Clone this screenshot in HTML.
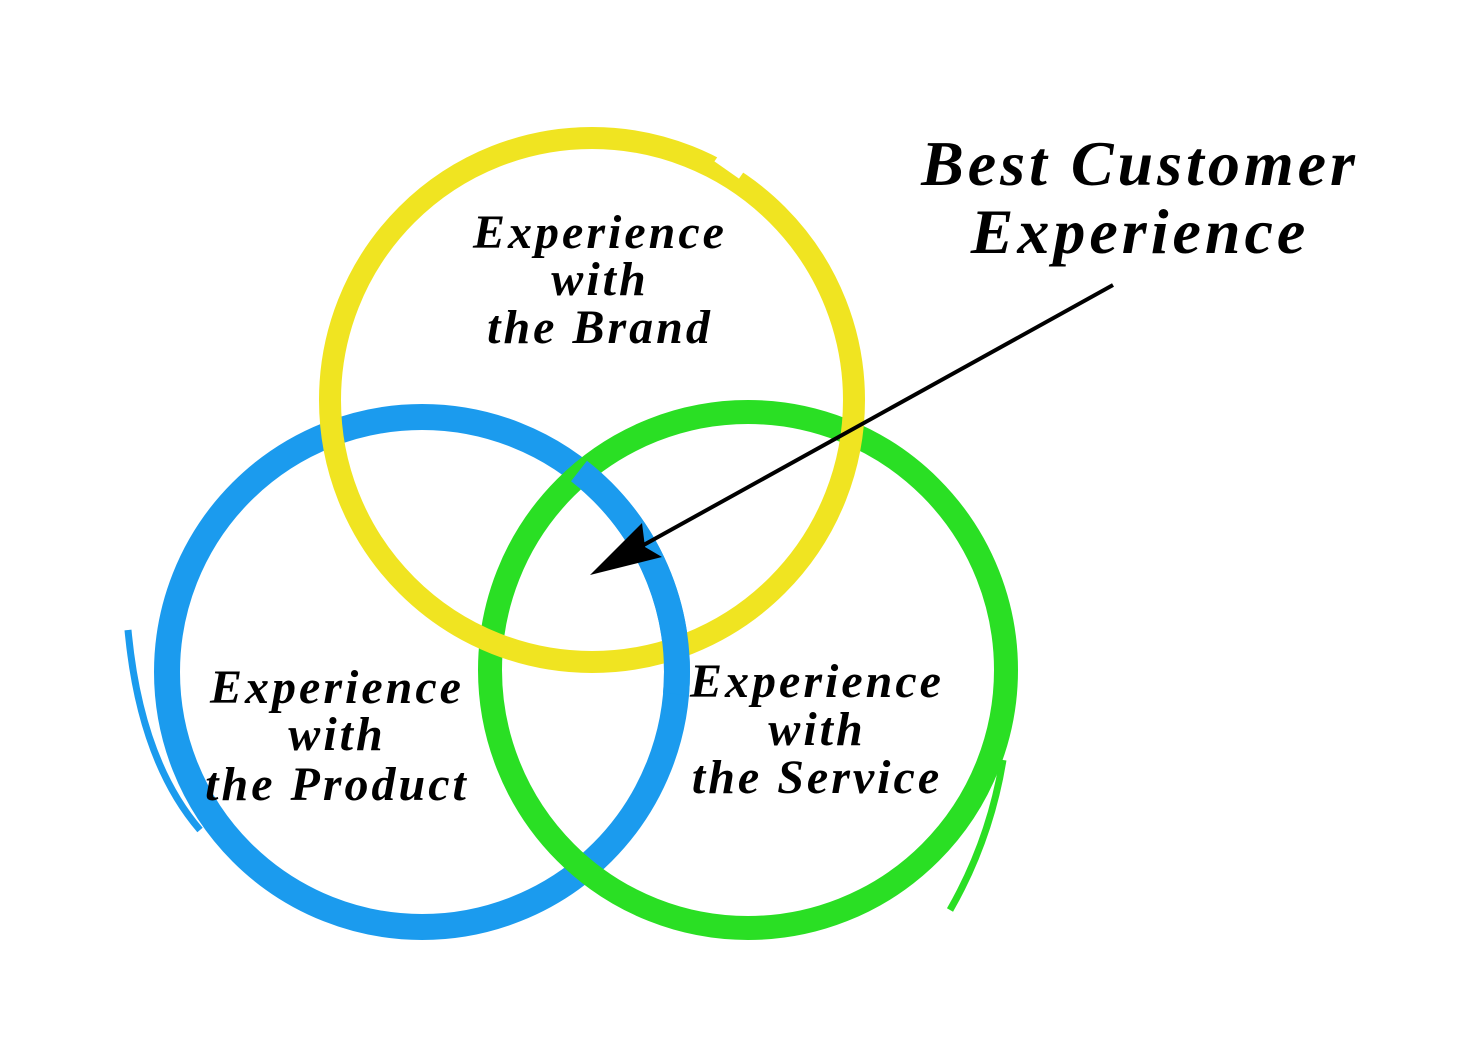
<!DOCTYPE html>
<html><head><style>
html,body{margin:0;padding:0;background:#fff}
svg{display:block}
text{font-family:"Liberation Serif",serif;font-style:italic;fill:#000}
</style></head><body>
<svg width="1466" height="1047" viewBox="0 0 1466 1047" xmlns="http://www.w3.org/2000/svg">
<rect width="1466" height="1047" fill="#fff"/>
<!-- blue -->
<circle cx="422" cy="672" r="255" fill="none" stroke="#1b9bee" stroke-width="26"/>
<path d="M128 630 Q140 760 200 830" fill="none" stroke="#1b9bee" stroke-width="7"/>
<!-- green -->
<circle cx="748" cy="670" r="258" fill="none" stroke="#2adf24" stroke-width="24"/>
<path d="M1003 760 Q990 840 950 910" fill="none" stroke="#2adf24" stroke-width="7"/>
<!-- yellow -->
<circle cx="592" cy="400" r="262" fill="none" stroke="#f0e421" stroke-width="22"/>
<rect x="718" y="150" width="30" height="22" fill="#fff" transform="rotate(35 733 161)"/>
<!-- blue overlay segment -->
<path d="M 579 471 A255 255 0 0 1 676 694" fill="none" stroke="#1b9bee" stroke-width="26"/>
<!-- arrow -->
<line x1="1113" y1="285" x2="640" y2="547" stroke="#000" stroke-width="4"/>
<polygon points="590,575 642,523 645,547 662,557" fill="#000"/>
<g font-size="48" text-anchor="middle" letter-spacing="3" font-weight="bold">
<text x="600" y="248">Experience</text>
<text x="600" y="295">with</text>
<text x="600" y="343">the Brand</text>
<text x="337" y="703">Experience</text>
<text x="337" y="750">with</text>
<text x="337" y="800">the Product</text>
<text x="817" y="697">Experience</text>
<text x="817" y="745">with</text>
<text x="817" y="793">the Service</text>
</g>
<g font-size="64" text-anchor="middle" font-weight="bold" letter-spacing="4">
<text x="1140" y="185">Best Customer</text>
<text x="1140" y="253">Experience</text>
</g>
</svg>
</body></html>
